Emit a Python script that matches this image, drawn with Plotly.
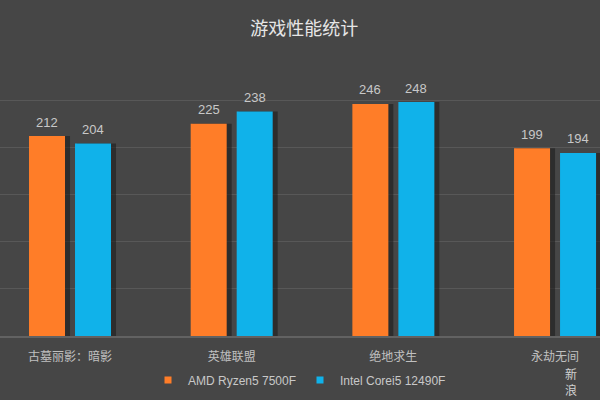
import plotly.graph_objects as go

categories = ["古墓丽影：暗影", "英雄联盟", "绝地求生", "永劫无间"]
series_names = ["AMD Ryzen5 7500F", "Intel Corei5 12490F"]
amd_values = [212, 225, 246, 199]
intel_values = [204, 238, 248, 194]
colors = ["#FF7D28", "#10B2EA"]
title_text = "游戏性能统计"
watermark = "新<br>浪"

FONT = "Liberation Sans, Noto Sans CJK SC, sans-serif"
BG = "#464646"
PX = 161.67  # pixels per category unit
BAR_W = 36 / PX
OFFSETS = [-41 / PX, 5 / PX]

fig = go.Figure()
# shadows
for vals, off in zip([amd_values, intel_values], OFFSETS):
    fig.add_trace(go.Bar(
        x=categories, y=vals, width=BAR_W + 3 / PX, offset=off + 2 / PX,
        marker=dict(color="rgba(25,25,25,0.55)", line=dict(width=0)),
        showlegend=False, hoverinfo="skip",
    ))
for name, vals, col, off in zip(series_names, [amd_values, intel_values], colors, OFFSETS):
    fig.add_trace(go.Bar(
        x=categories, y=vals, name=name, width=BAR_W, offset=off,
        marker=dict(color=col, line=dict(width=0)),
        showlegend=False, hoverinfo="skip",
    ))
# legend entries (small square swatches)
for name, col in zip(series_names, colors):
    fig.add_trace(go.Scatter(
        x=[categories[0]], y=[None], name=name, mode="markers",
        marker=dict(symbol="square", size=7, color=col),
        hoverinfo="skip",
    ))

annotations = []
for k, vals in enumerate([amd_values, intel_values]):
    shift = -23 if k == 0 else 23
    for c, v in zip(categories, vals):
        annotations.append(dict(
            x=c, y=v, xref="x", yref="y", text=str(v), showarrow=False,
            xshift=shift, yshift=14, yanchor="middle",
            font=dict(family=FONT, size=13, color="#c8c8c8"),
        ))

PLOT_TOP, PLOT_BOTTOM = 53, 336
PLOT_H = PLOT_BOTTOM - PLOT_TOP
annotations.append(dict(
    x=571 / 600, y=(PLOT_BOTTOM - 381) / PLOT_H, xref="paper", yref="paper",
    text=watermark, showarrow=False,
    font=dict(family="Noto Sans CJK SC", size=12, color="#d0d0d0"),
    xanchor="center", yanchor="middle",
))

fig.update_layout(
    width=600, height=400,
    margin=dict(l=0, r=0, t=PLOT_TOP, b=400 - PLOT_BOTTOM),
    paper_bgcolor=BG, plot_bgcolor=BG,
    barmode="overlay",
    title=dict(text=title_text, x=0.507, xanchor="center", y=1 - 29 / 400, yanchor="middle",
               font=dict(family="Noto Sans CJK SC", size=18, color="#e6e6e6")),
    xaxis=dict(
        type="category", range=[-0.433, 3.278],
        showgrid=False, showline=True, linecolor="#626262", linewidth=2,
        ticks="", ticklabelstandoff=9,
        tickfont=dict(family="Noto Sans CJK SC", size=12, color="#c0c0c0"),
    ),
    yaxis=dict(
        range=[0, 300], dtick=50, showticklabels=False,
        showgrid=True, gridcolor="#585858", gridwidth=1,
        zeroline=False, showline=False, ticks="",
    ),
    legend=dict(
        orientation="h", x=0.5, xanchor="center", y=(PLOT_BOTTOM - 380) / PLOT_H, yanchor="middle",
        font=dict(family=FONT, size=12, color="#c8c8c8"),
        bgcolor="rgba(0,0,0,0)", itemwidth=30, entrywidth=107,
    ),
    annotations=annotations,
    showlegend=True,
)

fig.write_html("out.html", config={"displayModeBar": False},
               post_script="document.body.style.margin='0';")
